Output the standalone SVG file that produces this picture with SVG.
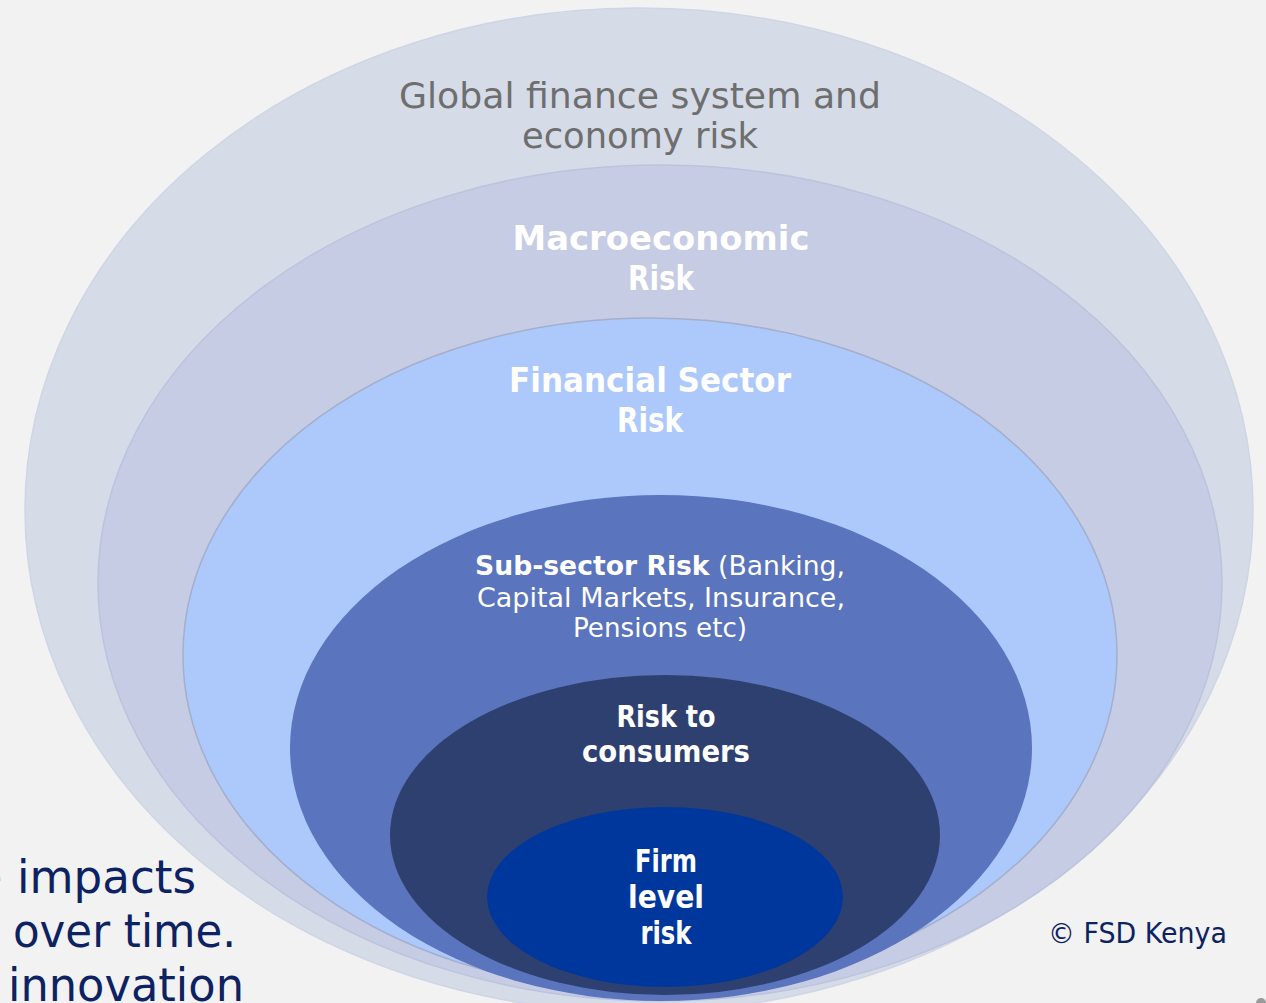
<svg xmlns="http://www.w3.org/2000/svg" width="1266" height="1003" viewBox="0 0 1266 1003">
<style>
.t{font-family:"DejaVu Sans","Liberation Sans",sans-serif;text-anchor:middle}
.w{fill:#ffffff;font-weight:bold}
.r{font-weight:normal}
.side{font-family:"DejaVu Sans","Liberation Sans",sans-serif;fill:#0d2262}
</style>
<rect width="1266" height="1003" fill="#f2f2f2"/>
<g id="global">
<ellipse cx="639" cy="510" rx="614" ry="502" fill="#d6dbe8" stroke="#cfd5e4" stroke-width="1.5"/>
<text class="t" x="640" y="108" font-size="36" fill="#6e6e6e" textLength="482" lengthAdjust="spacingAndGlyphs">Global finance system and</text>
<text class="t" x="640" y="148" font-size="36" fill="#6e6e6e" textLength="236" lengthAdjust="spacingAndGlyphs">economy risk</text>
</g>
<g id="macro">
<ellipse cx="660" cy="583" rx="562" ry="418" fill="#c5cce4" stroke="#bcc4dd" stroke-width="1.5"/>
<text class="t w" x="661" y="250" font-size="34" textLength="297" lengthAdjust="spacingAndGlyphs">Macroeconomic</text>
<text class="t w" x="661" y="290" font-size="34" textLength="66" lengthAdjust="spacingAndGlyphs">Risk</text>
</g>
<g id="financial">
<ellipse cx="650" cy="655" rx="467" ry="337" fill="#adc9fb" stroke="#a3afcc" stroke-width="1.5"/>
<text class="t w" x="650" y="392" font-size="34" textLength="282" lengthAdjust="spacingAndGlyphs">Financial Sector</text>
<text class="t w" x="650" y="432" font-size="34" textLength="66" lengthAdjust="spacingAndGlyphs">Risk</text>
</g>
<g id="subsector">
<ellipse cx="661" cy="748" rx="371" ry="253" fill="#5a74bd"/>
<text class="t" x="660" y="575" font-size="27" fill="#ffffff" textLength="370" lengthAdjust="spacingAndGlyphs"><tspan font-weight="bold">Sub-sector Risk</tspan> (Banking,</text>
<text class="t" x="661" y="607" font-size="27" fill="#ffffff" textLength="368" lengthAdjust="spacingAndGlyphs">Capital Markets, Insurance,</text>
<text class="t" x="660" y="637" font-size="27" fill="#ffffff" textLength="174" lengthAdjust="spacingAndGlyphs">Pensions etc)</text>
</g>
<g id="consumers">
<ellipse cx="665" cy="835" rx="275" ry="160" fill="#2e4070"/>
<text class="t w" x="666" y="727" font-size="31" textLength="99" lengthAdjust="spacingAndGlyphs">Risk to</text>
<text class="t w" x="666" y="762" font-size="31" textLength="168" lengthAdjust="spacingAndGlyphs">consumers</text>
</g>
<g id="firm">
<ellipse cx="665" cy="897" rx="178" ry="90" fill="#00379c"/>
<text class="t w" x="666" y="872" font-size="32" textLength="62" lengthAdjust="spacingAndGlyphs">Firm</text>
<text class="t w" x="666" y="908" font-size="32" textLength="76" lengthAdjust="spacingAndGlyphs">level</text>
<text class="t w" x="666" y="944" font-size="32" textLength="51" lengthAdjust="spacingAndGlyphs">risk</text>
</g>
<g id="connectors"/>
<g id="sidetext">
<text class="side" x="-26" y="893" font-size="46">e <tspan x="17" textLength="179" lengthAdjust="spacingAndGlyphs">impacts</tspan></text>
<text class="side" x="13" y="947" font-size="46" textLength="223" lengthAdjust="spacingAndGlyphs">over time.</text>
<text class="side" x="8" y="1001" font-size="46" textLength="236" lengthAdjust="spacingAndGlyphs">innovation</text>
<text class="side" x="1048" y="943" font-size="28" fill="#1f3272" textLength="179" lengthAdjust="spacingAndGlyphs">© FSD Kenya</text>
</g>
<circle cx="1261" cy="1003" r="5" fill="#9a9a9a"/>
</svg>
